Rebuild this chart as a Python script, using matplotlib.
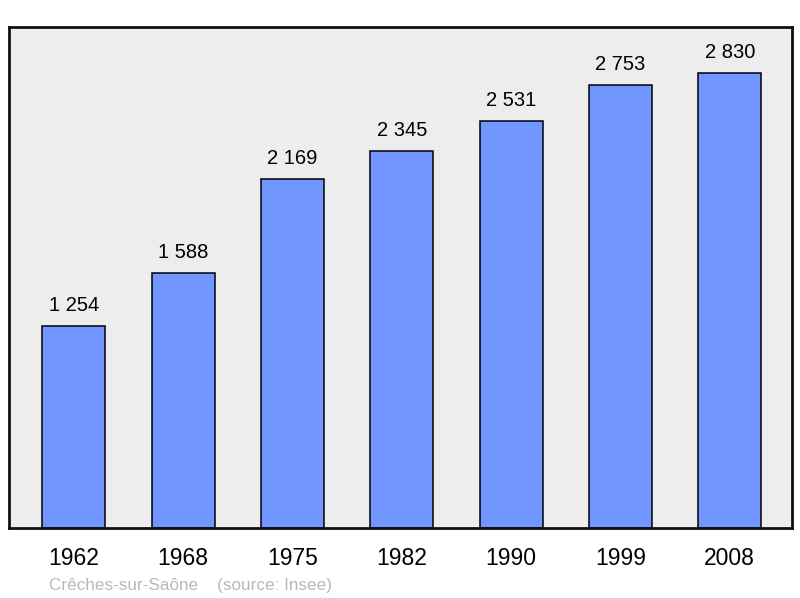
import matplotlib.pyplot as plt

plt.rcParams['font.family'] = ['Liberation Sans', 'DejaVu Sans']

# population data
years = ['1962', '1968', '1975', '1982', '1990', '1999', '2008']
population = [1254, 1588, 2169, 2345, 2531, 2753, 2830]
value_labels = ['1 254', '1 588', '2 169', '2 345', '2 531', '2 753', '2 830']

fig = plt.figure(figsize=(8, 5.98), dpi=100)
ax = fig.add_axes([0.01125, 0.1171, 0.97875, 0.8378])
ax.set_facecolor('#ededed')

x = range(len(years))
bars = ax.bar(x, population, width=0.577, color='#7196ff', edgecolor='black', linewidth=1.1, zorder=2)

for b, lab in zip(bars, value_labels):
    ax.annotate(lab, (b.get_x() + b.get_width() / 2, b.get_height()),
                xytext=(0, 8), textcoords='offset points',
                ha='center', va='bottom', fontsize=14.5)

ax.set_xlim(-0.593, 6.569)
ax.set_ylim(0, 3116)
ax.set_xticks(list(x))
ax.set_xticklabels(years, fontsize=16.5)
ax.tick_params(axis='x', length=0, pad=14)
ax.set_yticks([])
for s in ax.spines.values():
    s.set_linewidth(2)
    s.set_color('#111111')

fig.text(0.061, 0.008, 'Crêches-sur-Saône    (source: Insee)', color='#b8b8b8', fontsize=12.3, ha='left', va='bottom')

fig.savefig('out.png', dpi=100)
